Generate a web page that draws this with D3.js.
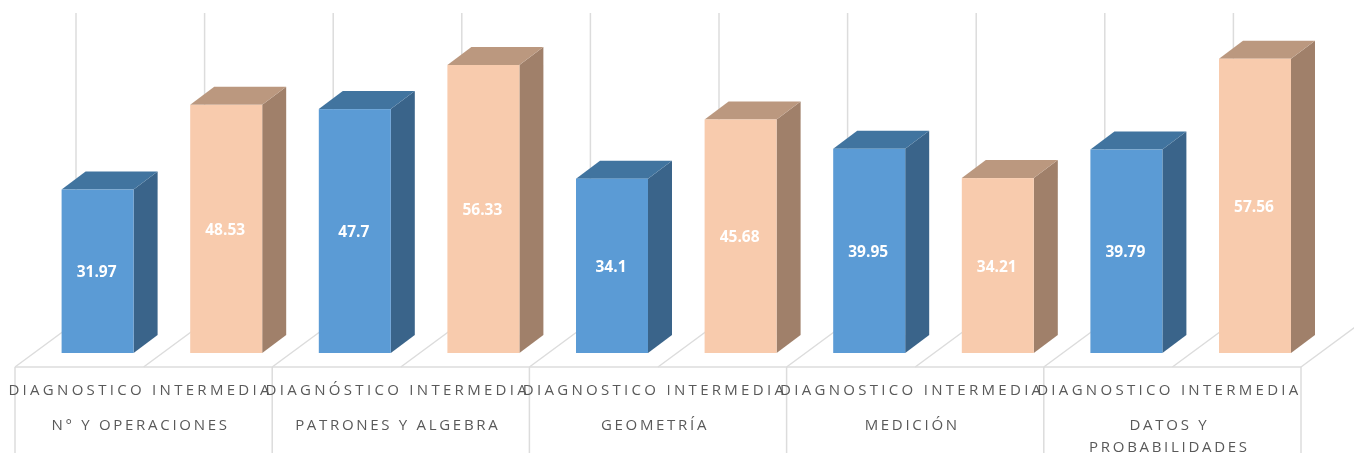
<!DOCTYPE html>
<html><head><meta charset="utf-8">
<script src="https://cdn.jsdelivr.net/npm/d3@7"></script>
<style>html,body{margin:0;padding:0;background:#fff}svg{display:block;filter:blur(.5px)}</style>
</head><body><svg id="c" width="1354" height="453"></svg>
<script>
const categories = ["N° Y OPERACIONES","PATRONES Y ALGEBRA","GEOMETRÍA","MEDICIÓN","DATOS Y|PROBABILIDADES"];
const topLabels = ["DIAGNOSTICO","DIAGNÓSTICO","DIAGNOSTICO","DIAGNOSTICO","DIAGNOSTICO"];
const diagnostico = [31.97,47.7,34.1,39.95,39.79];
const intermedia = [48.53,56.33,45.68,34.21,57.56];
const colors = {a:{front:"#5b9bd5",top:"#41749f",side:"#3a648a"},b:{front:"#f8cbad",top:"#bb987f",side:"#a0806a"}};

const svg = d3.select("#c");
const W = {l:15,r:1301}, baseY=353, floorY=367, depthX=24, depthY=18;
const x0 = d3.scaleBand().domain(d3.range(categories.length)).range([W.l,W.r]);
const x1 = d3.scaleBand().domain(["a","b"]).range([0,x0.bandwidth()]);
const y = d3.scaleLinear().domain([0,66.4]).range([baseY,13.5]);
const grid = "#dcdcdc";
const bw = 72;
const barX = (i,k)=> x0(i)+x1(k)+46.6;

const ticks = d3.range(categories.length*2+1).map(i=>W.l+i*x1.bandwidth());
svg.append("g").selectAll("line").data(ticks).join("line")
  .attr("x1",d=>d+61).attr("x2",d=>d+61).attr("y1",13).attr("y2",322)
  .attr("stroke",grid).attr("stroke-width",1.5);
svg.append("g").selectAll("line").data(ticks).join("line")
  .attr("x1",d=>d).attr("y1",floorY).attr("x2",d=>d+61).attr("y2",322)
  .attr("stroke",grid).attr("stroke-width",1.5);
svg.append("line").attr("x1",W.l).attr("x2",W.r).attr("y1",floorY).attr("y2",floorY).attr("stroke",grid).attr("stroke-width",1.5);
svg.append("g").selectAll("line").data(d3.range(categories.length+1)).join("line")
  .attr("x1",i=>W.l+i*x0.bandwidth()).attr("x2",i=>W.l+i*x0.bandwidth()).attr("y1",floorY).attr("y2",453)
  .attr("stroke",grid).attr("stroke-width",1.5);

const rows = [];
categories.forEach((c,i)=>{rows.push({i,k:"a",v:diagnostico[i]});rows.push({i,k:"b",v:intermedia[i]});});
const g = svg.append("g").selectAll("g").data(rows).join("g");
const pts = a=>a.map(p=>p.join(",")).join(" ");
g.append("polygon").attr("fill",d=>colors[d.k].side).attr("points",d=>{const X=barX(d.i,d.k)+bw,T=y(d.v);
  return pts([[X,T],[X+depthX,T-depthY],[X+depthX,baseY-depthY],[X,baseY]]);});
g.append("polygon").attr("fill",d=>colors[d.k].top).attr("points",d=>{const X=barX(d.i,d.k),T=y(d.v);
  return pts([[X,T],[X+depthX,T-depthY],[X+bw+depthX,T-depthY],[X+bw,T]]);});
g.append("rect").attr("fill",d=>colors[d.k].front).attr("x",d=>barX(d.i,d.k)).attr("y",d=>y(d.v)).attr("width",bw).attr("height",d=>baseY-y(d.v));
g.append("text").text(d=>d.v).attr("x",d=>barX(d.i,d.k)+bw/2-1).attr("y",d=>(y(d.v)+baseY)/2+6)
  .attr("text-anchor","middle").attr("fill","#fff").attr("font-family","Open Sans, Liberation Sans, sans-serif").attr("font-weight",700).attr("font-size",15.5);

const lab = svg.append("g").attr("font-family","Open Sans, Liberation Sans, sans-serif").attr("font-size",15).attr("fill","#595959").attr("letter-spacing","2.7px").attr("text-anchor","middle");
categories.forEach((c,i)=>{
  const cx=x0(i)+x0.bandwidth()/2-3;
  lab.append("text").attr("x",cx).attr("y",394.5).attr("letter-spacing","3.3px").text(topLabels[i]+" INTERMEDIA");
  c.split("|").forEach((t,j)=>lab.append("text").attr("x",cx).attr("y",430+j*21.5).text(t));
});
</script></body></html>
